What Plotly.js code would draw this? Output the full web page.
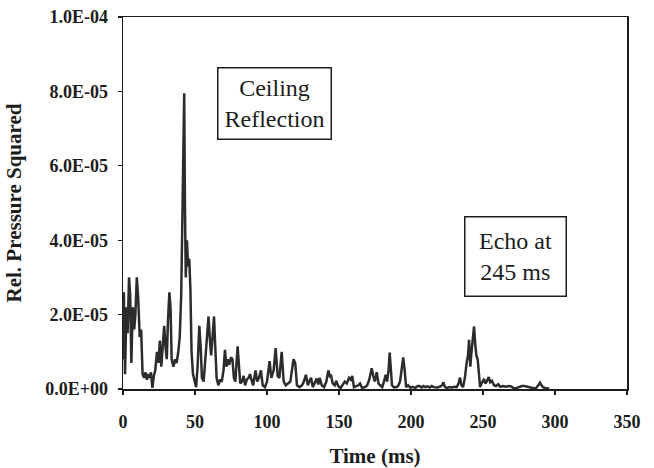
<!DOCTYPE html>
<html>
<head>
<meta charset="utf-8">
<script src="https://cdn.plot.ly/plotly-3.0.1.min.js"></script>
<style>html,body{margin:0;padding:0;background:#fff;}#chart{width:654px;height:468px;}</style>
</head>
<body>
<div id="chart"></div>
<script>
// Time (ms)
var timeMs = [0.0,0.6,1.4,2.4,3.2,4.2,5.0,5.8,6.8,7.8,8.6,9.6,10.6,11.6,12.6,13.6,14.6,15.6,16.6,17.6,18.6,19.4,20.4,21.4,22.4,23.6,24.6,25.6,26.6,27.6,28.6,29.6,30.4,31.2,32.2,33.0,33.8,35.0,36.2,37.2,38.4,39.4,40.4,41.2,42.0,42.5,43.0,43.6,44.4,45.2,46.0,46.8,47.6,48.6,49.8,50.8,51.8,53.0,54.0,54.8,56.0,57.2,58.2,59.4,60.4,61.2,62.2,63.2,64.0,65.0,66.2,67.4,68.6,69.8,70.8,71.8,72.8,73.8,75.0,76.0,77.0,78.0,79.6,80.6,81.4,82.6,83.8,84.8,86.0,87.2,88.2,89.2,90.4,92.0,93.2,94.4,95.8,97.0,98.6,100.0,101.8,103.0,104.6,106.0,107.4,108.6,110.2,111.6,113.0,114.6,116.2,118.4,119.6,120.8,122.6,124.4,125.6,127.0,128.4,129.4,130.6,131.8,133.2,134.5,135.6,136.6,138.0,139.6,141.2,142.6,143.6,144.4,145.6,147.0,148.0,149.4,151.0,152.6,154.0,155.4,157.0,158.2,159.2,160.4,162.0,163.4,164.6,166.0,168.0,169.6,171.0,172.7,173.8,174.8,176.2,177.4,178.6,180.0,181.2,182.4,183.4,184.4,185.2,186.0,186.8,188.0,189.6,191.0,192.4,193.4,194.6,195.6,196.6,198.0,199.6,201.0,203.0,204.6,206.0,207.4,208.6,210.0,211.6,213.0,214.4,216.0,218.0,220.0,221.6,222.5,223.6,225.0,226.6,228.4,230.0,231.8,233.0,234.0,235.0,236.2,237.4,238.7,239.6,240.3,241.2,242.0,243.0,243.8,244.6,245.4,246.3,247.2,248.0,249.0,250.7,251.6,252.6,254.0,255.0,256.2,257.6,259.0,260.6,262.0,264.0,266.0,268.0,269.6,271.0,273.0,275.0,277.0,279.0,281.0,283.0,285.0,287.0,288.6,289.6,290.6,291.6,293.0,294.6,296.0];
// Relative pressure squared
var relPressureSq = [0.8e-5,2.6e-5,0.4e-5,2.2e-5,1.5e-5,3.0e-5,2.5e-5,0.7e-5,2.2e-5,1.6e-5,2.0e-5,3.0e-5,2.4e-5,1.4e-5,1.6e-5,0.4e-5,0.3e-5,0.45e-5,0.25e-5,0.4e-5,0.3e-5,0.45e-5,0.03e-5,0.35e-5,0.5e-5,1.0e-5,0.7e-5,1.3e-5,0.6e-5,1.2e-5,1.7e-5,1.1e-5,0.8e-5,1.8e-5,2.6e-5,2.2e-5,0.8e-5,0.6e-5,0.8e-5,0.7e-5,1.0e-5,1.4e-5,2.5e-5,4.5e-5,6.5e-5,7.95e-5,5.0e-5,3.0e-5,4.0e-5,3.3e-5,3.5e-5,2.7e-5,1.0e-5,0.4e-5,0.2e-5,0.05e-5,0.6e-5,1.7e-5,1.1e-5,0.3e-5,0.2e-5,0.9e-5,1.2e-5,1.95e-5,1.3e-5,0.9e-5,1.4e-5,1.95e-5,1.2e-5,0.3e-5,0.1e-5,0.25e-5,0.2e-5,0.5e-5,1.05e-5,0.6e-5,0.8e-5,0.65e-5,0.85e-5,0.8e-5,0.3e-5,0.2e-5,1.15e-5,0.6e-5,0.15e-5,0.2e-5,0.35e-5,0.1e-5,0.25e-5,0.3e-5,0.4e-5,0.25e-5,0.1e-5,0.5e-5,0.2e-5,0.3e-5,0.5e-5,0.1e-5,0.05e-5,0.2e-5,0.75e-5,0.3e-5,0.5e-5,1.1e-5,0.35e-5,0.3e-5,1.0e-5,0.2e-5,0.1e-5,0.15e-5,0.2e-5,0.8e-5,0.7e-5,0.1e-5,0.05e-5,0.1e-5,0.2e-5,0.38e-5,0.1e-5,0.2e-5,0.3e-5,0.05e-5,0.15e-5,0.28e-5,0.12e-5,0.3e-5,0.1e-5,0.05e-5,0.2e-5,0.5e-5,0.35e-5,0.38e-5,0.15e-5,0.1e-5,0.22e-5,0.08e-5,0.02e-5,0.1e-5,0.2e-5,0.15e-5,0.3e-5,0.25e-5,0.35e-5,0.05e-5,0.08e-5,0.1e-5,0.15e-5,0.03e-5,0.05e-5,0.1e-5,0.25e-5,0.56e-5,0.35e-5,0.2e-5,0.45e-5,0.15e-5,0.1e-5,0.05e-5,0.2e-5,0.38e-5,0.2e-5,0.5e-5,0.98e-5,0.6e-5,0.1e-5,0.05e-5,0.05e-5,0.08e-5,0.2e-5,0.5e-5,0.85e-5,0.5e-5,0.05e-5,0.1e-5,0.03e-5,0.06e-5,0.03e-5,0.08e-5,0.08e-5,0.04e-5,0.08e-5,0.05e-5,0.07e-5,0.04e-5,0.08e-5,0.05e-5,0.04e-5,0.06e-5,0.1e-5,0.18e-5,0.05e-5,0.03e-5,0.05e-5,0.04e-5,0.06e-5,0.05e-5,0.15e-5,0.31e-5,0.1e-5,0.05e-5,0.3e-5,0.72e-5,0.9e-5,1.32e-5,0.6e-5,1.0e-5,1.3e-5,1.68e-5,1.2e-5,0.9e-5,0.8e-5,0.3e-5,0.05e-5,0.15e-5,0.27e-5,0.15e-5,0.2e-5,0.32e-5,0.18e-5,0.22e-5,0.1e-5,0.08e-5,0.13e-5,0.06e-5,0.08e-5,0.06e-5,0.08e-5,0.07e-5,0.03e-5,0.02e-5,0.05e-5,0.08e-5,0.08e-5,0.06e-5,0.03e-5,0.02e-5,0.03e-5,0.1e-5,0.17e-5,0.1e-5,0.05e-5,0.03e-5,0.02e-5,0.01e-5];

var xTickVals = [0,50,100,150,200,250,300,350];
var xTickText = ['0','50','100','150','200','250','300','350'];
var yTickVals = [0,2e-5,4e-5,6e-5,8e-5,1e-4];
var yTickText = ['0.0E+00','2.0E-05','4.0E-05','6.0E-05','8.0E-05','1.0E-04'];

var serif = "'Liberation Serif', 'Times New Roman', Times, serif";
var ink = '#1c1c1c';

var trace = {
  x: timeMs, y: relPressureSq, type: 'scatter', mode: 'lines',
  line: {color: '#2c2c2c', width: 2.5}, hoverinfo: 'skip', showlegend: false
};

var layout = {
  width: 654, height: 468,
  margin: {l: 123, r: 27, t: 17, b: 79},
  paper_bgcolor: '#ffffff', plot_bgcolor: '#ffffff',
  font: {family: serif, color: ink},
  xaxis: {
    range: [0, 350], tickvals: xTickVals, ticktext: xTickText,
    ticks: 'outside', ticklen: 4, tickwidth: 1.2, tickcolor: ink,
    showline: true, mirror: true, linecolor: ink, linewidth: 1.5,
    showgrid: false, zeroline: false, ticklabelstandoff: 12,
    tickfont: {family: serif, size: 18, weight: 700, color: ink},
    title: {text: 'Time (ms)', font: {family: serif, size: 21, weight: 700, color: ink}, standoff: 19},
    automargin: false
  },
  yaxis: {
    range: [0, 1e-4], tickvals: yTickVals, ticktext: yTickText,
    ticks: 'outside', ticklen: 4, tickwidth: 1.2, tickcolor: ink,
    showline: true, mirror: true, linecolor: ink, linewidth: 1.5,
    showgrid: false, zeroline: false, ticklabelstandoff: 6,
    tickfont: {family: serif, size: 18, weight: 700, color: ink},
    title: {text: 'Rel. Pressure Squared', font: {family: serif, size: 21, weight: 700, color: ink}, standoff: 18},
    automargin: false
  },
  annotations: [
    {x: 105.2, y: 7.68e-5, xref: 'x', yref: 'y', text: 'Ceiling<br>Reflection', showarrow: false,
     font: {family: serif, size: 24, color: ink}, bgcolor: '#ffffff', bordercolor: ink, borderwidth: 1.5,
     borderpad: 2, width: 108, height: 66, align: 'center'},
    {x: 272.6, y: 3.57e-5, xref: 'x', yref: 'y', text: 'Echo at<br>245 ms', showarrow: false,
     font: {family: serif, size: 24, color: ink}, bgcolor: '#ffffff', bordercolor: ink, borderwidth: 1.5,
     borderpad: 2, width: 96, height: 74, align: 'center'}
  ]
};

Plotly.newPlot('chart', [trace], layout, {displayModeBar: false, staticPlot: true});
</script>
</body>
</html>
